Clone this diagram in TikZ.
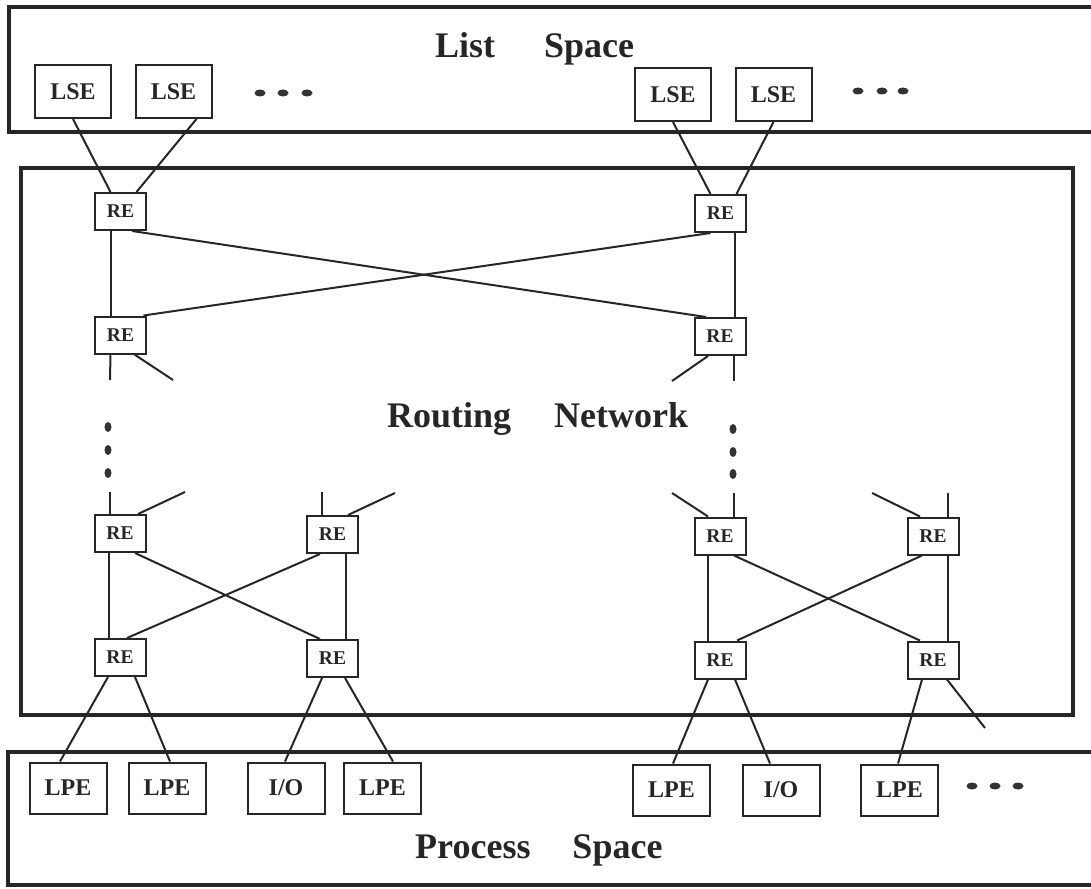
\documentclass[tikz,border=0pt]{standalone}
\usepackage{fontspec}
\setmainfont{Liberation Serif}
\begin{document}
\begin{tikzpicture}[x=1pt,y=-1pt,
  frame/.style={line width=4.5pt,line cap=rect,black!85},
  wire/.style={line width=2pt,black!85},
  elem/.style={draw=black!85,line width=2pt,inner sep=0pt,font=\bfseries\fontsize{24}{26}\selectfont,text=black!85},
  lse/.style={elem,minimum width=76pt,minimum height=53pt},
  lpe/.style={elem,minimum width=77pt,minimum height=51pt},
  re/.style={elem,minimum width=51pt,minimum height=37pt,font=\bfseries\fontsize{19.5}{21}\selectfont},
  title/.style={anchor=base west,inner sep=0pt,font=\bfseries\fontsize{36}{40}\selectfont,text=black!85},
  hdot/.style={fill=black!80},
]
\useasboundingbox (0,0) rectangle (1091,888);

% ---- the three regions ----
\draw[frame] (1091,7) -- (9,7) -- (9,132) -- (1091,132);
\draw[frame] (21,168) rectangle (1073,715);
\draw[frame] (1091,752) -- (8,752) -- (8,885) -- (1091,885);

\node[title] (lstitle) at (435,58) {List\hspace{49pt}Space};
\node[title] (rntitle) at (387,427) {Routing\hspace{43pt}Network};
\node[title] (pstitle) at (415,858) {Process\hspace{42pt}Space};

% ---- list space elements ----
\node[lse] (lse1) at (73,91.5) {LSE};
\node[lse] (lse2) at (173.5,91.5) {LSE};
\node[lse] (lse3) at (673,94.5) {LSE};
\node[lse] (lse4) at (773.5,94.5) {LSE};

% ---- routing elements ----
\node[re] (ra1) at (120.5,211.5) {RE};
\node[re] (ra2) at (120.5,335) {RE};
\node[re] (ra3) at (120,533.5) {RE};
\node[re] (ra4) at (120,657.5) {RE};
\node[re] (rb3) at (332.5,534.5) {RE};
\node[re] (rb4) at (332.5,658.5) {RE};
\node[re] (rc1) at (720.5,213.5) {RE};
\node[re] (rc2) at (720,336.5) {RE};
\node[re] (rc3) at (720,536) {RE};
\node[re] (rc4) at (720,660) {RE};
\node[re] (rd3) at (933,536) {RE};
\node[re] (rd4) at (933,660) {RE};

% ---- process space elements ----
\node[lpe] (p1) at (68,788) {LPE};
\node[lpe] (p2) at (167,788) {LPE};
\node[lpe] (p3) at (286,788) {I/O};
\node[lpe] (p4) at (382.5,788) {LPE};
\node[lpe] (p5) at (671.5,790) {LPE};
\node[lpe] (p6) at (781,790) {I/O};
\node[lpe] (p7) at (899.5,790) {LPE};

% ---- free ends of the partial links ----
\coordinate (a2v) at (110,380);
\coordinate (a2d) at (173,380);
\coordinate (c2v) at (734,381);
\coordinate (c2d) at (672,381);
\coordinate (a3v) at (110,492);
\coordinate (a3d) at (185,492);
\coordinate (b3v) at (322,492);
\coordinate (b3d) at (395,493);
\coordinate (c3v) at (734,493);
\coordinate (c3d) at (672,493);
\coordinate (d3v) at (948,493);
\coordinate (d3d) at (872,493);
\coordinate (d4x) at (985,728);

% ---- links from list space ----
\draw[wire] (lse1.south) -- ([xshift=-10]ra1.north);
\draw[wire] ([xshift=23]lse2.south) -- ([xshift=16]ra1.north);
\draw[wire] (lse3.south) -- ([xshift=-10]rc1.north);
\draw[wire] (lse4.south) -- ([xshift=16]rc1.north);

% ---- upper stage ----
\draw[wire] ([xshift=-10]ra1.south) -- ([xshift=-10]ra2.north);
\draw[wire] ([xshift=14.5]rc1.south) -- ([xshift=15]rc2.north);
\draw[wire] ([xshift=11.5]ra1.south) -- ([xshift=-14]rc2.north);
\draw[wire] ([xshift=23]ra2.north) -- ([xshift=-10]rc1.south);
\draw[wire] ([xshift=-10]ra2.south) -- (a2v);
\draw[wire] ([xshift=14]ra2.south) -- (a2d);
\draw[wire] ([xshift=14]rc2.south) -- (c2v);
\draw[wire] ([xshift=-12]rc2.south) -- (c2d);

% ---- lower stage ----
\draw[wire] ([xshift=-10]ra3.north) -- (a3v);
\draw[wire] ([xshift=18]ra3.north) -- (a3d);
\draw[wire] ([xshift=-10.5]rb3.north) -- (b3v);
\draw[wire] ([xshift=15.5]rb3.north) -- (b3d);
\draw[wire] ([xshift=14]rc3.north) -- (c3v);
\draw[wire] ([xshift=-12]rc3.north) -- (c3d);
\draw[wire] ([xshift=15]rd3.north) -- (d3v);
\draw[wire] ([xshift=-13]rd3.north) -- (d3d);

\draw[wire] ([xshift=-11]ra3.south) -- ([xshift=-11]ra4.north);
\draw[wire] ([xshift=15]ra3.south) -- ([xshift=-12.5]rb4.north);
\draw[wire] ([xshift=-12.5]rb3.south) -- ([xshift=7]ra4.north);
\draw[wire] ([xshift=13.5]rb3.south) -- ([xshift=13.5]rb4.north);

\draw[wire] ([xshift=-12]rc3.south) -- ([xshift=-12]rc4.north);
\draw[wire] ([xshift=14]rc3.south) -- ([xshift=-13]rd4.north);
\draw[wire] ([xshift=-11]rd3.south) -- ([xshift=17]rc4.north);
\draw[wire] ([xshift=15]rd3.south) -- ([xshift=15]rd4.north);

% ---- links to process space ----
\draw[wire] ([xshift=-12]ra4.south) -- ([xshift=-8]p1.north);
\draw[wire] ([xshift=15]ra4.south) -- ([xshift=3]p2.north);
\draw[wire] ([xshift=-10.5]rb4.south) -- ([xshift=-1]p3.north);
\draw[wire] ([xshift=12.5]rb4.south) -- ([xshift=10.5]p4.north);
\draw[wire] ([xshift=-12]rc4.south) -- ([xshift=1.5]p5.north);
\draw[wire] ([xshift=15]rc4.south) -- ([xshift=-11]p6.north);
\draw[wire] ([xshift=-11]rd4.south) -- ([xshift=-1.5]p7.north);
\draw[wire] ([xshift=14]rd4.south) -- (d4x);

% ---- ellipsis dots ----
\foreach \x in {260,283,307} \fill[hdot] (\x,93) ellipse (5.5 and 3.5);
\foreach \x in {858,882,903} \fill[hdot] (\x,91) ellipse (5.5 and 3.5);
\foreach \x in {972,995,1018} \fill[hdot] (\x,786) ellipse (5.5 and 3.5);
\foreach \y in {427,450,473} \fill[hdot] (108,\y) ellipse (3.5 and 5);
\foreach \y in {429,452,474} \fill[hdot] (733,\y) ellipse (3.5 and 5);
\end{tikzpicture}
\end{document}
